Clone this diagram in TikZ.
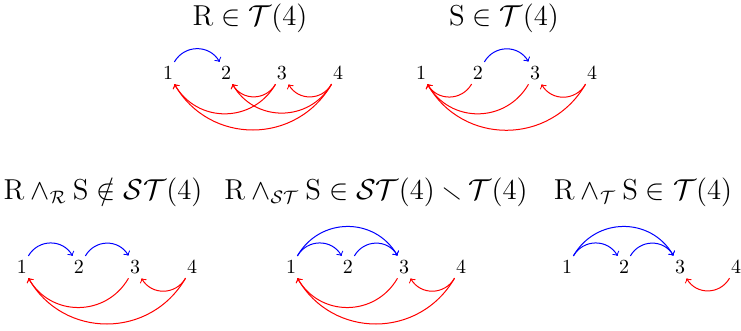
\documentclass[tikz,border=0pt]{standalone}
\usepackage{amsmath,amssymb}
\begin{document}
\begin{tikzpicture}[x=0.5pt,y=-0.5pt,
  num/.style={font=\normalsize,inner sep=2pt},
  ttl/.style={font=\fontsize{13.5}{16}\selectfont,inner sep=0pt},
  arc/.style={bend left=60,looseness=1.15},
  blu/.style={blue,->,line width=0.5pt},
  rd/.style={red,->,line width=0.5pt}]
\useasboundingbox (0,0) rectangle (741,331);
% top left: R
\node[ttl] (t1) at (250,18) {$\mathrm{R} \in \mathcal{T}(4)$};
\node[num] (a1) at (168,73) {1};
\node[num] (a2) at (226,73) {2};
\node[num] (a3) at (282,73) {3};
\node[num] (a4) at (338,73) {4};
\draw[blu] (a1) to[arc] (a2);
\draw[rd] (a3) to[arc] (a2);
\draw[rd] (a3) to[arc] (a1);
\draw[rd] (a4) to[arc] (a3);
\draw[rd] (a4) to[arc] (a2);
\draw[rd] (a4) to[arc] (a1);
% top right: S
\node[ttl] (t2) at (504,18) {$\mathrm{S} \in \mathcal{T}(4)$};
\node[num] (b1) at (421,73) {1};
\node[num] (b2) at (478,73) {2};
\node[num] (b3) at (535,73) {3};
\node[num] (b4) at (592,73) {4};
\draw[blu] (b2) to[arc] (b3);
\draw[rd] (b2) to[arc] (b1);
\draw[rd] (b3) to[arc] (b1);
\draw[rd] (b4) to[arc] (b3);
\draw[rd] (b4) to[arc] (b1);
% bottom left
\node[ttl] (t3) at (103,192) {$\mathrm{R} \wedge_{\mathcal{R}} \mathrm{S} \notin \mathcal{ST}(4)$};
\node[num] (c1) at (22,267) {1};
\node[num] (c2) at (79,267) {2};
\node[num] (c3) at (135,267) {3};
\node[num] (c4) at (192,267) {4};
\draw[blu] (c1) to[arc] (c2);
\draw[blu] (c2) to[arc] (c3);
\draw[rd] (c3) to[arc] (c1);
\draw[rd] (c4) to[arc] (c3);
\draw[rd] (c4) to[arc] (c1);
% bottom middle
\node[ttl] (t4) at (376,192) {$\mathrm{R} \wedge_{\mathcal{ST}} \mathrm{S} \in \mathcal{ST}(4) \smallsetminus \mathcal{T}(4)$};
\node[num] (d1) at (291,267) {1};
\node[num] (d2) at (348,267) {2};
\node[num] (d3) at (404,267) {3};
\node[num] (d4) at (461,267) {4};
\draw[blu] (d1) to[arc] (d2);
\draw[blu] (d2) to[arc] (d3);
\draw[blu] (d1) to[arc] (d3);
\draw[rd] (d3) to[arc] (d1);
\draw[rd] (d4) to[arc] (d3);
\draw[rd] (d4) to[arc] (d1);
% bottom right
\node[ttl] (t5) at (643,192) {$\mathrm{R} \wedge_{\mathcal{T}} \mathrm{S} \in \mathcal{T}(4)$};
\node[num] (e1) at (567,267) {1};
\node[num] (e2) at (624,267) {2};
\node[num] (e3) at (680,267) {3};
\node[num] (e4) at (736,267) {4};
\draw[blu] (e1) to[arc] (e2);
\draw[blu] (e2) to[arc] (e3);
\draw[blu] (e1) to[arc] (e3);
\draw[rd] (e4) to[arc] (e3);
\end{tikzpicture}
\end{document}
